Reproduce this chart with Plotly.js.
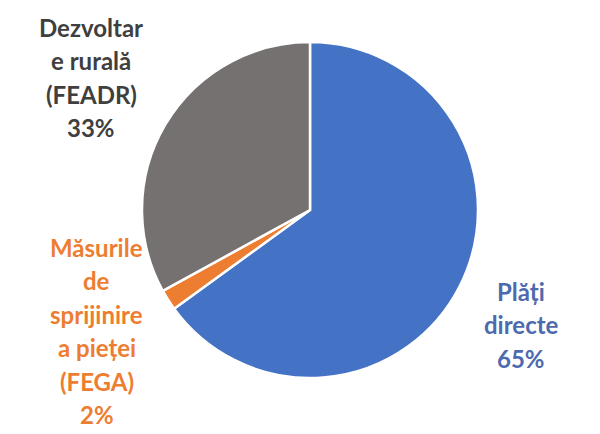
<!DOCTYPE html>
<html>
<head>
<meta charset="utf-8">
<script src="https://cdn.plot.ly/plotly-3.0.1.min.js"></script>
<style>html,body{margin:0;padding:0;background:#fff}#chart{width:600px;height:434px}</style>
</head>
<body>
<div id="chart"></div>
<script>
const labels = ['Plăți directe', 'Măsurile de sprijinire a pieței (FEGA)', 'Dezvoltare rurală (FEADR)'];
const values = [65, 2, 33];
const sliceColors = ['#4472C4', '#ED7D31', '#767171'];
const textColors = ['#4E6AAE', '#ED7D31', '#3F3F3F'];
const labelLines = [
  ['Plăți', 'directe'],
  ['Măsurile', 'de', 'sprijinire', 'a pieței', '(FEGA)'],
  ['Dezvoltar', 'e rurală', '(FEADR)']
];
// label anchor: center x, first-line y (pixels in the 600x434 canvas)
const labelAnchors = [[521, 291], [97, 247], [91, 27]];
const lineStep = 33.5;

const W = 600, H = 434;
const annotations = [];
labelLines.forEach((lines, i) => {
  const all = lines.concat([values[i] + '%']);
  all.forEach((t, j) => {
    annotations.push({
      text: t, showarrow: false, xref: 'paper', yref: 'paper',
      x: labelAnchors[i][0] / W, y: 1 - (labelAnchors[i][1] + j * lineStep) / H,
      xanchor: 'center', yanchor: 'middle',
      font: {family: 'Lato, "Open Sans", sans-serif', size: 24, color: textColors[i], weight: 'bold'}
    });
  });
});

Plotly.newPlot('chart', [{
  type: 'pie',
  labels: labels,
  values: values,
  sort: false,
  direction: 'clockwise',
  rotation: 0,
  textinfo: 'none',
  hoverinfo: 'label+percent',
  marker: {colors: sliceColors, line: {color: '#ffffff', width: 2.5}},
  domain: {x: [142 / W, 478 / W], y: [1 - 378 / H, 1 - 42 / H]}
}], {
  width: W, height: H,
  margin: {l: 0, r: 0, t: 0, b: 0},
  showlegend: false,
  paper_bgcolor: '#ffffff',
  annotations: annotations
}, {displayModeBar: false, staticPlot: true});
</script>
</body>
</html>
